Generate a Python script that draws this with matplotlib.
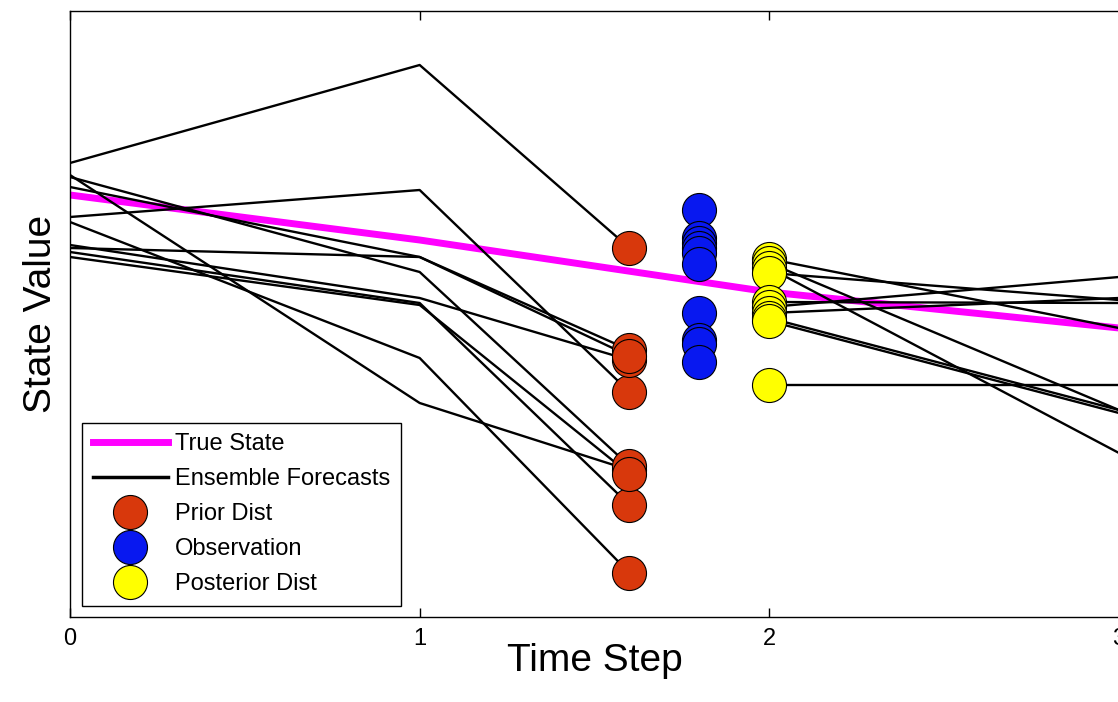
import numpy as np
import matplotlib
matplotlib.use("Agg")
import matplotlib.pyplot as plt
from matplotlib.lines import Line2D

plt.rcParams['font.family'] = ['Liberation Sans', 'DejaVu Sans']

# Data (state values, arbitrary units)
true_t = [0, 1, 2, 3]
true_state = [4.22, 3.77, 3.25, 2.89]

# ensemble members: value at t=0, t=1 and the prior at t=1.6
ens_t0 = [4.54, 4.42, 4.40, 4.30, 4.00, 3.95, 3.72, 3.69, 3.65, 3.60]
ens_t1 = [5.52, 2.14, 3.45, 3.60, 4.27, 2.59, 3.19, 3.60, 3.14, 3.12]
prior = [3.69, 1.47, 1.51, 2.67, 2.25, 0.44, 2.57, 2.61, 1.12, 1.43]
prior_t = 1.6

obs = [4.07, 3.79, 3.74, 3.69, 3.64, 3.53, 3.04, 2.77, 2.73, 2.55]
obs_t = 1.8

posterior = [3.58, 3.54, 3.49, 3.44, 3.15, 3.10, 3.04, 2.99, 2.96, 2.32]
post_t = 2.0
ens_t3 = [2.89, 2.07, 1.64, 3.17, 3.14, 3.40, 3.19, 2.07, 2.04, 2.32]

W, H = 1118, 702
fig = plt.figure(figsize=(W / 100, H / 100), dpi=100)
ax = fig.add_axes([70 / W, (H - 617) / H, 1049 / W, 606 / H])

red = '#d8380c'
blue = '#0818f0'
yellow = '#ffff00'

# ensemble forecasts
for a, b, c in zip(ens_t0, ens_t1, prior):
    ax.plot([0, 1, prior_t], [a, b, c], color='k', lw=1.7, zorder=3)
for p, e in zip(posterior, ens_t3):
    ax.plot([post_t, 3], [p, e], color='k', lw=1.7, zorder=3)

# true state
ax.plot(true_t, true_state, color='#ff00ff', lw=5, zorder=2)

ms = 24.5
ax.plot([prior_t] * len(prior), prior, 'o', ms=ms, mfc=red, mec='k', mew=0.8, zorder=4)
ax.plot([obs_t] * len(obs), obs, 'o', ms=ms, mfc=blue, mec='k', mew=0.8, zorder=4)
ax.plot([post_t] * len(posterior), posterior, 'o', ms=ms, mfc=yellow, mec='k', mew=0.8, zorder=4)

ax.set_xlim(0, 3)
ax.set_ylim(0, 6.06)
ax.set_xticks([0, 1, 2, 3])
ax.set_yticks([])
ax.tick_params(axis='x', direction='in', top=True, length=6.5, width=1,
               pad=8, labelsize=17)
for s in ax.spines.values():
    s.set_linewidth(1)

ax.set_xlabel('Time Step', fontsize=28, labelpad=-5)
ax.set_ylabel('State Value', fontsize=28, labelpad=8)

handles = [
    Line2D([], [], color='#ff00ff', lw=5),
    Line2D([], [], color='k', lw=2.5),
    Line2D([], [], ls='', marker='o', ms=ms, mfc=red, mec='k', mew=0.8),
    Line2D([], [], ls='', marker='o', ms=ms, mfc=blue, mec='k', mew=0.8),
    Line2D([], [], ls='', marker='o', ms=ms, mfc=yellow, mec='k', mew=0.8),
]
labels = ['True State', 'Ensemble Forecasts', 'Prior Dist', 'Observation', 'Posterior Dist']
leg = ax.legend(handles, labels, loc='lower left',
                bbox_to_anchor=(82 / W, (H - 606) / H), bbox_transform=fig.transFigure,
                fontsize=17, fancybox=False, edgecolor='k', framealpha=1,
                handlelength=3.2, handletextpad=0.3, labelspacing=0.55,
                borderpad=0.45, borderaxespad=0)
leg.get_frame().set_linewidth(1)

fig.savefig('out.png', dpi=100)
